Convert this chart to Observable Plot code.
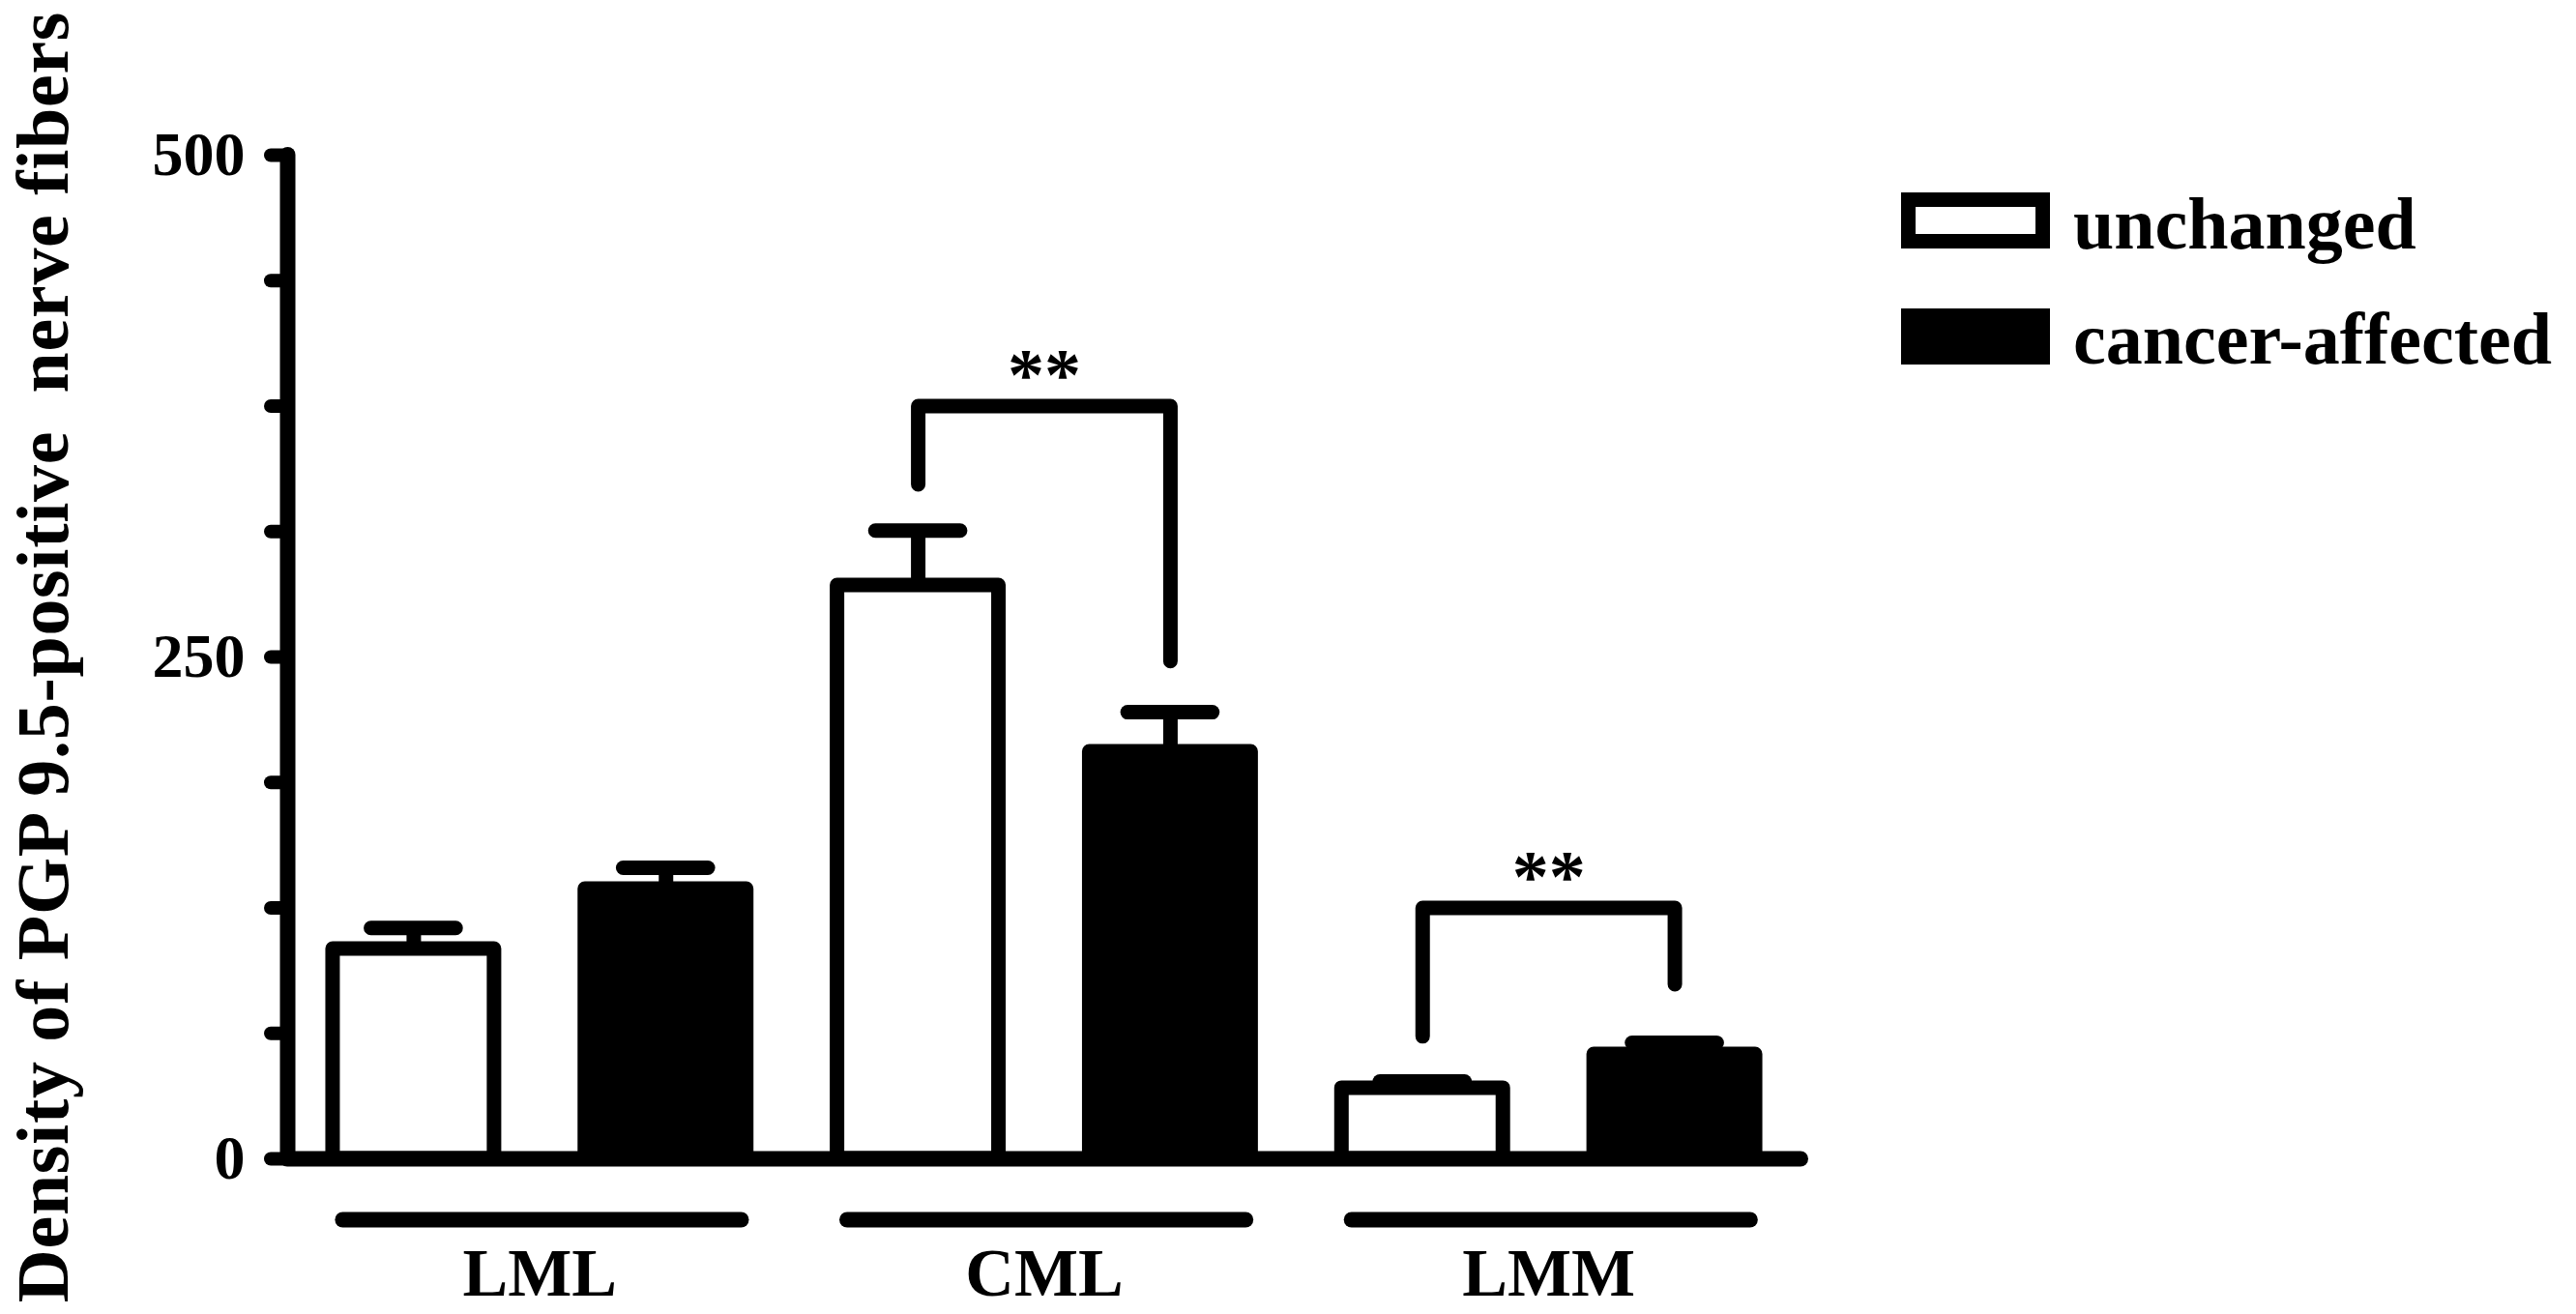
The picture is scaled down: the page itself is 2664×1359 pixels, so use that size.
<!DOCTYPE html>
<html>
<head>
<meta charset="utf-8">
<script src="https://cdn.jsdelivr.net/npm/d3@7"></script>
<script src="https://cdn.jsdelivr.net/npm/@observablehq/plot@0.6"></script>
<style>
  body { margin: 0; background: white; }
  #chart { position: relative; width: 2664px; height: 1359px; font-family: "Liberation Serif", serif; font-weight: bold; }
  #chart svg { position: absolute; left: 0; top: 0; }
  #chart g[aria-label="y-axis label"] text { font-size: 76px; letter-spacing: 0.7px; }
  .key { position: absolute; left: 1966px; width: 154px; height: 58px; box-sizing: border-box; border: 15px solid black; }
  .key-label { position: absolute; left: 2144px; font-size: 76px; line-height: 1; white-space: nowrap; }
</style>
</head>
<body>
<div id="chart">
  <div class="key" style="top:199px; background:white"></div>
  <div class="key-label" style="top:193px">unchanged</div>
  <div class="key" style="top:319px; background:black"></div>
  <div class="key-label" style="top:312px">cancer-affected</div>
</div>
<script>
// valores
const regions = ["LML", "CML", "LMM"]
const conditions = ["unchanged", "cancer-affected"]
const unchanged = [104.5, 285.6, 35.2]
const unchangedErr = [10.5, 27.4, 3.3]
const cancer = [134.4, 202.8, 52]
const cancerErr = [10.6, 19.7, 5.8]

// comparaciones significativas
const sigRegions = ["CML", "LMM"]
const sigTop = [375, 125]
const sigLeftEnd = [336, 61]
const sigRightEnd = [248, 87]
const sigText = ["**", "**"]

const yTicks = [0, 62.5, 125, 187.5, 250, 312.5, 375, 437.5, 500]
const xDomain = [-0.5, 5.5]

let bars = regions.flatMap((r, i) => conditions.map((c, j) => ({
  region: r,
  condition: c,
  pos: i * 2 + j,
  value: j ? cancer[i] : unchanged[i],
  err: j ? cancerErr[i] : unchangedErr[i],
})))

let brackets = sigRegions.flatMap((r, k) => {
  const i = regions.indexOf(r)
  return [
    {id: k, pos: i * 2, y: sigLeftEnd[k]},
    {id: k, pos: i * 2, y: sigTop[k]},
    {id: k, pos: i * 2 + 1, y: sigTop[k]},
    {id: k, pos: i * 2 + 1, y: sigRightEnd[k]},
  ]
})

let stars = sigRegions.map((r, k) => ({pos: regions.indexOf(r) * 2 + 0.5, y: sigTop[k], text: sigText[k]}))

let chart = Plot.plot({
  width: 2664,
  height: 1359,
  marginLeft: 297,
  marginRight: 802,
  marginTop: 160,
  marginBottom: 161,
  style: {fontFamily: "Liberation Serif", fontWeight: "bold", background: "white", overflow: "visible"},
  x: {domain: xDomain, axis: null},
  y: {domain: [0, 500], axis: null},
  color: {domain: conditions, range: ["white", "black"]},
  marks: [
    Plot.axisY({
      ticks: yTicks,
      tickFormat: d => d % 250 === 0 ? d : "",
      tickSize: 17,
      tickPadding: 27,
      strokeWidth: 14,
      strokeLinecap: "round",
      fontSize: 64,
      label: "Density of PGP 9.5-positive\u00a0 nerve fibers",
      labelAnchor: "center",
      labelArrow: "none",
      labelOffset: 281,
    }),
    Plot.axisX({
      ticks: regions.map((r, i) => i * 2 + 0.5),
      tickFormat: (d, i) => regions[i],
      tickSize: 0,
      tickPadding: 92,
      fontSize: 70,
      label: null,
    }),
    // barras de error
    Plot.ruleX(bars, {x: "pos", y1: "value", y2: d => d.value + d.err, strokeWidth: 15}),
    Plot.ruleY(bars, {
      y: d => d.value + d.err,
      x1: d => d.pos - 0.168,
      x2: d => d.pos + 0.168,
      strokeWidth: 15,
      strokeLinecap: "round",
    }),
    Plot.rect(bars, {
      x1: d => d.pos - 0.32,
      x2: d => d.pos + 0.32,
      y1: 0,
      y2: "value",
      fill: "condition",
      stroke: "black",
      strokeWidth: 15,
      strokeLinejoin: "round",
    }),
    Plot.line(brackets, {
      x: "pos",
      y: "y",
      z: "id",
      stroke: "black",
      strokeWidth: 15,
      strokeLinejoin: "round",
      strokeLinecap: "round",
    }),
    Plot.text(stars, {x: "pos", y: "y", text: "text", lineAnchor: "bottom", dy: -7, fontSize: 76, fontWeight: "bold"}),
    Plot.ruleX([xDomain[0]], {y1: 0, y2: 500, strokeWidth: 16, strokeLinecap: "round"}),
    Plot.ruleY([0], {strokeWidth: 16, strokeLinecap: "round"}),
    // lineas de grupo
    Plot.ruleY(regions, {
      y: 0,
      dy: 63,
      x1: (d, i) => i * 2 - 0.28,
      x2: (d, i) => i * 2 + 1.3,
      strokeWidth: 16,
      strokeLinecap: "round",
    }),
  ],
})

document.getElementById('chart').prepend(chart)
</script>
</body>
</html>
